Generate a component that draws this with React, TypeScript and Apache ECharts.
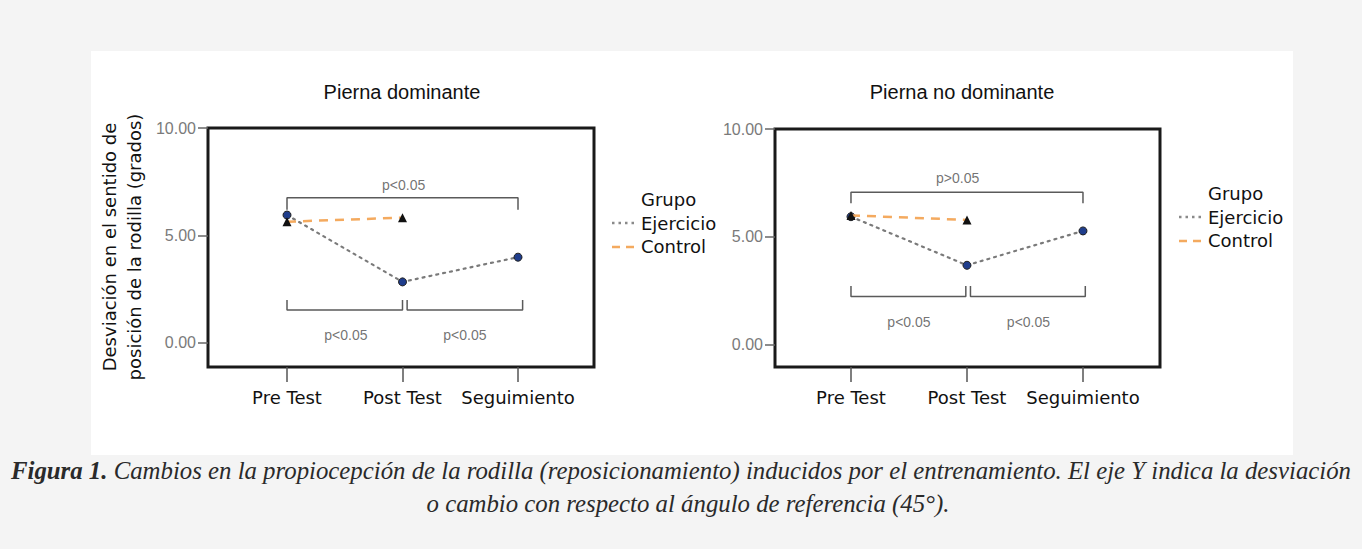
import React, { useEffect, useRef } from 'react';
import * as echarts from 'echarts';

// ---- data ----
const categories = ['Pre Test', 'Post Test', 'Seguimiento'];
const catX = [1, 2, 3];
const yTicks = [0, 5, 10];

const domEjercicio = [5.95, 2.84, 3.99];
const domControl = [5.64, 5.83];
const noDomEjercicio = [5.94, 3.69, 5.28];
const noDomControl = [6.0, 5.79];

const domTopBracket = [[1, 6.2], [1, 6.75], [3, 6.75], [3, 6.2]];
const domBottomLeft = [[1, 2.0], [1, 1.53], [2, 1.53], [2, 2.0]];
const domBottomRight = [[2.04, 2.0], [2.04, 1.53], [3.04, 1.53], [3.04, 2.0]];
const domPLabels = [[2.01, 7.35, 'p<0.05'], [1.51, 0.37, 'p<0.05'], [2.54, 0.37, 'p<0.05']];

const noDomTopBracket = [[1, 6.56], [1, 7.07], [3, 7.07], [3, 6.56]];
const noDomBottomLeft = [[1, 2.73], [1, 2.24], [1.99, 2.24], [1.99, 2.73]];
const noDomBottomRight = [[2.03, 2.73], [2.03, 2.24], [3.02, 2.24], [3.02, 2.73]];
const noDomPLabels = [[1.92, 7.73, 'p>0.05'], [1.5, 1.08, 'p<0.05'], [2.53, 1.08, 'p<0.05']];

const titles = ['Pierna dominante', 'Pierna no dominante'];
const groupNames = ['Ejercicio', 'Control'];
const yAxisName = 'Desviación en el sentido de\nposición de la rodilla (grados)';
const captionBold = 'Figura 1.';
const captionLine1 = ' Cambios en la propiocepción de la rodilla (reposicionamiento) inducidos por el entrenamiento. El eje Y indica la desviación';
const captionLine2 = 'o cambio con respecto al ángulo de referencia (45°).';

const SANS = "'DejaVu Sans', Verdana, sans-serif";
const ARIAL = "'Liberation Sans', Arial, sans-serif";
const SERIF = "'Liberation Serif', 'Times New Roman', serif";
const EJ_COLOR = '#7a7a7a';
const CT_COLOR = '#f4aa5f';
const BR_COLOR = '#5a5a5a';

function xAxisFor(gridIndex: number, min: number, max: number) {
  return {
    type: 'value',
    gridIndex,
    min,
    max,
    position: 'bottom',
    axisLine: { show: false, onZero: false },
    splitLine: { show: false },
    axisTick: {
      show: true,
      customValues: catX,
      length: 15,
      lineStyle: { color: '#555', width: 1.5 },
    },
    axisLabel: {
      show: true,
      customValues: catX,
      formatter: (v: number) => categories[Math.round(v) - 1] ?? '',
      margin: 21,
      color: '#111',
      fontFamily: SANS,
      fontSize: 18,
    },
  };
}

function yAxisFor(gridIndex: number, min: number) {
  return {
    type: 'value',
    gridIndex,
    min,
    max: 10,
    position: 'left',
    axisLine: { show: false, onZero: false },
    splitLine: { show: false },
    axisTick: {
      show: true,
      customValues: yTicks,
      length: 10,
      lineStyle: { color: '#666', width: 1.5 },
    },
    axisLabel: {
      show: true,
      customValues: yTicks,
      formatter: (v: number) => v.toFixed(2),
      margin: 12,
      color: '#7a7a7a',
      fontFamily: ARIAL,
      fontSize: 16,
    },
  };
}

function bracket(idx: number, data: number[][]) {
  return {
    type: 'line',
    xAxisIndex: idx,
    yAxisIndex: idx,
    data,
    symbol: 'none',
    silent: true,
    z: 1,
    lineStyle: { color: BR_COLOR, width: 1.5 },
  };
}

function pLabels(idx: number, data: (number | string)[][]) {
  return {
    type: 'scatter',
    xAxisIndex: idx,
    yAxisIndex: idx,
    data: data.map((d) => ({ value: [d[0], d[1]], name: d[2] })),
    symbolSize: 1,
    itemStyle: { color: 'transparent' },
    silent: true,
    label: {
      show: true,
      position: 'inside',
      formatter: (p: any) => p.name,
      color: '#4f4f4f',
      fontFamily: ARIAL,
      fontSize: 14,
    },
  };
}

function groupSeries(idx: number, ej: number[], ct: number[]) {
  return [
    {
      type: 'line',
      name: groupNames[0],
      xAxisIndex: idx,
      yAxisIndex: idx,
      data: ej.map((v, i) => [catX[i], v]),
      symbol: 'circle',
      symbolSize: 8,
      z: 3,
      itemStyle: { color: '#1f3d8c', borderColor: '#222', borderWidth: 1 },
      lineStyle: { color: EJ_COLOR, width: 2.2, type: [2, 5], cap: 'round' },
    },
    {
      type: 'line',
      name: groupNames[1],
      xAxisIndex: idx,
      yAxisIndex: idx,
      data: ct.map((v, i) => [catX[i], v]),
      symbol: 'triangle',
      symbolSize: 9,
      z: 4,
      itemStyle: { color: '#111' },
      lineStyle: { color: CT_COLOR, width: 2.5, type: [9, 7] },
    },
  ];
}

function legendGraphic(x: number, y: number) {
  return [
    {
      type: 'text',
      x,
      y,
      style: { text: 'Grupo', fill: '#111', font: `18px ${SANS}`, verticalAlign: 'middle', textAlign: 'left' },
    },
    {
      type: 'line',
      shape: { x1: x - 29, y1: y + 24, x2: x - 3, y2: y + 24 },
      style: { stroke: '#8a8a8a', lineWidth: 2.5, lineDash: [2.5, 4] },
    },
    {
      type: 'text',
      x,
      y: y + 24,
      style: { text: groupNames[0], fill: '#111', font: `18px ${SANS}`, verticalAlign: 'middle', textAlign: 'left' },
    },
    {
      type: 'line',
      shape: { x1: x - 29, y1: y + 48, x2: x - 3, y2: y + 48 },
      style: { stroke: CT_COLOR, lineWidth: 2.5, lineDash: [8, 6] },
    },
    {
      type: 'text',
      x,
      y: y + 47,
      style: { text: groupNames[1], fill: '#111', font: `18px ${SANS}`, verticalAlign: 'middle', textAlign: 'left' },
    },
  ];
}

export default function App() {
  const ref = useRef<HTMLDivElement>(null);

  useEffect(() => {
    document.body.style.margin = '0';
    if (!ref.current) return;
    const chart = echarts.init(ref.current, null, { renderer: 'svg' });

    const option: any = {
      animation: false,
      backgroundColor: '#f4f4f4',
      grid: [
        { left: 208, top: 128, width: 386, height: 239, show: true, borderColor: '#1a1a1a', borderWidth: 3, backgroundColor: '#fff' },
        { left: 775, top: 129, width: 385, height: 238, show: true, borderColor: '#1a1a1a', borderWidth: 3, backgroundColor: '#fff' },
      ],
      xAxis: [xAxisFor(0, 0.316, 3.658), xAxisFor(1, 0.345, 3.664)],
      yAxis: [yAxisFor(0, -1.12), yAxisFor(1, -1.02)],
      series: [
        bracket(0, domTopBracket),
        bracket(0, domBottomLeft),
        bracket(0, domBottomRight),
        pLabels(0, domPLabels),
        ...groupSeries(0, domEjercicio, domControl),
        bracket(1, noDomTopBracket),
        bracket(1, noDomBottomLeft),
        bracket(1, noDomBottomRight),
        pLabels(1, noDomPLabels),
        ...groupSeries(1, noDomEjercicio, noDomControl),
      ],
      graphic: [
        {
          type: 'rect',
          z: -10,
          silent: true,
          shape: { x: 91, y: 51, width: 1202, height: 404 },
          style: { fill: '#ffffff' },
        },
        {
          type: 'text',
          x: 402,
          y: 92,
          style: { text: titles[0], fill: '#111', font: `20px ${ARIAL}`, textAlign: 'center', verticalAlign: 'middle' },
        },
        {
          type: 'text',
          x: 962,
          y: 92,
          style: { text: titles[1], fill: '#111', font: `20px ${ARIAL}`, textAlign: 'center', verticalAlign: 'middle' },
        },
        {
          type: 'text',
          x: 122,
          y: 247,
          rotation: Math.PI / 2,
          style: {
            text: yAxisName,
            fill: '#111',
            font: `18px ${SANS}`,
            textAlign: 'center',
            verticalAlign: 'middle',
            lineHeight: 25,
          },
        },
        ...legendGraphic(641, 199),
        ...legendGraphic(1208, 193),
        {
          type: 'text',
          x: 681,
          y: 470,
          style: {
            text: `{b|${captionBold}}${captionLine1}`,
            fill: '#2a2a2a',
            font: `italic 24.8px ${SERIF}`,
            textAlign: 'center',
            verticalAlign: 'middle',
            rich: {
              b: {
                fontWeight: 'bold',
                fontStyle: 'italic',
                fontSize: 24.8,
                fontFamily: SERIF,
                color: '#111',
              },
            },
          },
        },
        {
          type: 'text',
          x: 688,
          y: 503,
          style: {
            text: captionLine2,
            fill: '#2a2a2a',
            font: `italic 24.8px ${SERIF}`,
            textAlign: 'center',
            verticalAlign: 'middle',
          },
        },
      ],
    };

    chart.setOption(option);
    return () => chart.dispose();
  }, []);

  return (
    <div
      ref={ref}
      style={{ position: 'absolute', left: 0, top: 0, width: 1362, height: 549 }}
    />
  );
}
